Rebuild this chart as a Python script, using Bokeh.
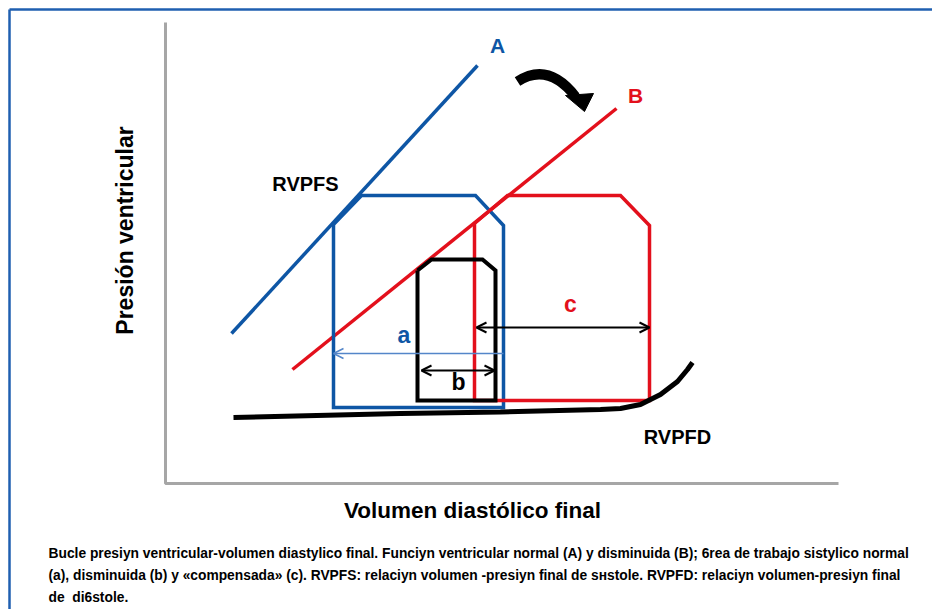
import math
from bokeh.plotting import figure
from bokeh.models import Range1d, Arrow, OpenHead, Label
from bokeh.embed import file_html
from bokeh.resources import INLINE

# ---- schematic data: volume (x) and pressure (y), arbitrary units ----
esp_a_vol = [66, 312]            # RVPFS, normal function (A)
esp_a_pres = [150, 418]
esp_b_vol = [127, 451]           # RVPFS, depressed function (B)
esp_b_pres = [114, 375]

loop_a_vol = [168, 196, 310, 338, 338, 168, 168]     # normal loop (a)
loop_a_pres = [259, 288, 288, 258, 76, 76, 259]
loop_c_vol = [309, 342, 455, 484, 484, 309, 309]     # compensated loop (c)
loop_c_pres = [260, 288, 288, 258, 83, 83, 260]
loop_b_vol = [252, 266, 317, 330, 330, 252, 252]     # depressed loop (b)
loop_b_pres = [213, 224, 224, 213, 83, 83, 213]

edp_vol = [68, 235, 335, 435, 455, 475, 495, 512, 522, 527]   # RVPFD
edp_pres = [66, 70, 71.5, 74, 75, 79, 89, 102, 114, 121]

sv_a = [338, 168, 130]   # stroke volume a: from vol, to vol, at pressure
sv_b = [256, 329, 113]
sv_c = [311, 484, 156]

BLUE = "#0E56A5"
RED = "#E3101C"
LBLUE = "#5486C9"
GRAY = "#A6A6A6"
FONT = "Liberation Sans"

p = figure(width=932, height=609, x_range=Range1d(-165, 767), y_range=Range1d(-126, 483),
           output_backend="svg", toolbar_location=None, x_axis_type=None, y_axis_type=None,
           min_border=0, outline_line_color=None, background_fill_color="white",
           border_fill_color="white")
p.grid.visible = False

# outer frame (top and left)
p.line([-156, 767], [474, 474], line_color="#1F5FB0", line_width=2.5)
p.line([-156, -156], [-126, 474], line_color="#1F5FB0", line_width=2.5)

# axes
p.line([0, 0, 673], [461, 0, 0], line_color=GRAY, line_width=3)

# end-systolic lines
p.line(esp_b_vol, esp_b_pres, line_color=RED, line_width=3.5)

# loops
p.line(loop_a_vol, loop_a_pres, line_color=BLUE, line_width=3.5, line_join="miter")
p.line(loop_c_vol, loop_c_pres, line_color=RED, line_width=3.5, line_join="miter")
p.line(loop_b_vol, loop_b_pres, line_color="black", line_width=4, line_join="miter")

p.line(esp_a_vol, esp_a_pres, line_color=BLUE, line_width=3.5)

# end-diastolic curve
p.line(edp_vol, edp_pres, line_color="black", line_width=5)

# stroke volume arrows
p.add_layout(Arrow(end=OpenHead(size=10, line_color=LBLUE, line_width=1.5),
                   x_start=sv_a[0], y_start=sv_a[2], x_end=sv_a[1], y_end=sv_a[2],
                   line_color=LBLUE, line_width=1.5))
for sv in (sv_b, sv_c):
    p.add_layout(Arrow(start=OpenHead(size=10, line_color="black", line_width=2),
                       end=OpenHead(size=10, line_color="black", line_width=2),
                       x_start=sv[0], y_start=sv[2], x_end=sv[1], y_end=sv[2],
                       line_color="black", line_width=2))

# curved arrow A -> B
p.quadratic(x0=[352], y0=[402], x1=[410], y1=[387], cx=[382.5], cy=[422],
            line_color="black", line_width=10, line_cap="butt")
p.patch([400, 428, 419], [388, 390, 372], fill_color="black", line_color="black")

def lab(x, y, t, color="black", size="21px", **kw):
    p.add_layout(Label(x=x, y=y, text=t, text_color=color, text_font=FONT,
                       text_font_style="bold", text_font_size=size,
                       text_align=kw.pop("align", "center"),
                       text_baseline=kw.pop("baseline", "middle"), **kw))

lab(332, 438, "A", BLUE)
lab(470, 388, "B", RED)
lab(140, 300, "RVPFS", size="20px")
lab(512, 47, "RVPFD", size="20px")
lab(238.5, 149, "a", BLUE, size="23px")
lab(293, 102, "b", size="23px")
lab(405, 180, "c", RED, size="23px")

lab(-41, 253, "Presión ventricular", size="23px", angle=math.pi / 2)
lab(307, -27, "Volumen diastólico final", size="22.5px")

cap = [
    "Bucle presiyn ventricular-volumen diastylico final. Funciyn ventricular normal (A) y disminuida (B); 6rea de trabajo sistylico normal",
    "(a), disminuida (b) y «compensada» (c). RVPFS: relaciyn volumen -presiyn final de sнstole. RVPFD: relaciyn volumen-presiyn final",
    "de\u00a0\u00a0di6stole.",
]
for i, t in enumerate(cap):
    lab(-117, -70 - 22 * i, t, size="13.8px", align="left")

open("out.html", "w").write(file_html(p, INLINE))
